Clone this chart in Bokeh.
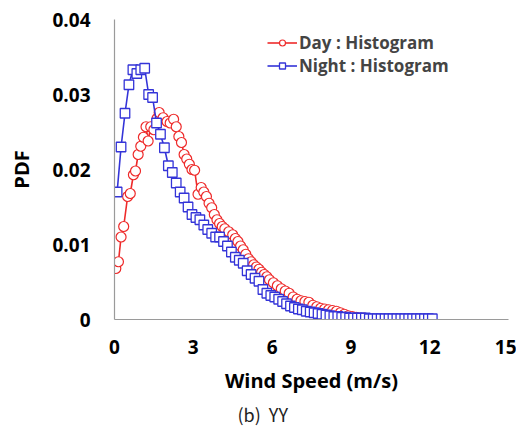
from bokeh.plotting import figure
from bokeh.models import Range1d, FixedTicker, Legend, LegendItem, Title
from bokeh.embed import file_html
from bokeh.resources import INLINE

# ---- data ----
day_speed = [0.05, 0.15, 0.25, 0.35, 0.5, 0.6, 0.72, 0.8, 0.9, 1.0,
             1.1, 1.2, 1.28, 1.38, 1.5, 1.62, 1.7, 1.85, 2.0, 2.12,
             2.25, 2.35, 2.45, 2.55, 2.65, 2.75, 2.85, 2.95, 3.05, 3.18,
             3.3, 3.4, 3.5, 3.6, 3.7, 3.8, 3.9, 4.0, 4.1, 4.2,
             4.35, 4.5, 4.6, 4.7, 4.8, 4.9, 5.0, 5.1, 5.2, 5.3,
             5.4, 5.5, 5.6, 5.7, 5.8, 5.9, 6.05, 6.2, 6.35, 6.5,
             6.65, 6.8, 6.95, 7.1, 7.25, 7.4, 7.55, 7.7, 7.85, 8.0,
             8.15, 8.3, 8.45, 8.6, 8.75, 8.9, 9.05, 9.2, 9.35, 9.5]
day_pdf = [0.0068, 0.0077, 0.0110, 0.0124, 0.0164, 0.0168, 0.0193, 0.0198, 0.0220, 0.0231,
           0.0243, 0.0257, 0.0238, 0.0257, 0.0253, 0.0268, 0.0276, 0.0269, 0.0264, 0.0262,
           0.0267, 0.0257, 0.0244, 0.0236, 0.0220, 0.0214, 0.0207, 0.0200, 0.0199, 0.0167,
           0.0176, 0.0170, 0.0164, 0.0155, 0.0149, 0.0140, 0.0133, 0.0128, 0.0124, 0.0121,
           0.0117, 0.0113, 0.0108, 0.0104, 0.0098, 0.0093, 0.0087, 0.0081, 0.0077, 0.0073,
           0.0070, 0.0067, 0.0063, 0.0060, 0.0057, 0.0053, 0.0049, 0.0045, 0.0041, 0.0038,
           0.0035, 0.0030, 0.0027, 0.0025, 0.0024, 0.0023, 0.0019, 0.0017, 0.0015, 0.0014,
           0.0013, 0.0012, 0.0011, 0.0009, 0.0007, 0.0005, 0.0004, 0.0003, 0.0002, 0.0002]

night_speed = [0.10, 0.25, 0.40, 0.55, 0.70, 0.85, 1.00, 1.15, 1.30, 1.45,
               1.60, 1.75, 1.90, 2.05, 2.20, 2.35, 2.50, 2.65, 2.80, 2.95,
               3.10, 3.25, 3.40, 3.55, 3.70, 3.85, 4.00, 4.15, 4.30, 4.45,
               4.60, 4.75, 4.90, 5.05, 5.20, 5.35, 5.50, 5.65, 5.80, 5.95,
               6.10, 6.25, 6.40, 6.55, 6.70, 6.85, 7.00, 7.15, 7.30, 7.45,
               7.60, 7.75, 7.90, 8.05, 8.20, 8.35, 8.50, 8.65, 8.80, 8.95,
               9.10, 9.25, 9.40, 9.55, 9.70, 9.85, 10.00, 10.15, 10.30, 10.45,
               10.60, 10.75, 10.90, 11.05, 11.20, 11.35, 11.50, 11.65, 11.80, 11.95,
               12.10]
night_pdf = [0.0170, 0.0230, 0.0275, 0.0313, 0.0333, 0.0328, 0.0333, 0.0335, 0.0300, 0.0296,
             0.0262, 0.0247, 0.0229, 0.0205, 0.0196, 0.0182, 0.0170, 0.0162, 0.0150, 0.0140,
             0.0136, 0.0133, 0.0126, 0.0120, 0.0115, 0.0110, 0.0110, 0.0104, 0.0098, 0.0090,
             0.0083, 0.0079, 0.0075, 0.0065, 0.0060, 0.0055, 0.0051, 0.0040, 0.0035, 0.0032,
             0.0030, 0.0027, 0.0024, 0.0021, 0.0018, 0.0016, 0.0014, 0.0013, 0.0011, 0.0010,
             0.0009, 0.0008, 0.0007, 0.0006, 0.0005, 0.0004, 0.0004, 0.0003, 0.0003, 0.0002,
             0.0002, 0.0002, 0.0002, 0.0002, 0.0001, 0.0001, 0.0001, 0.0001, 0.0001, 0.0001,
             0.0001, 0.0001, 0.0001, 0.0001, 0.0001, 0.0001, 0.0001, 0.0001, 0.0001, 0.0001,
             0.0001]

x_ticks = [0, 3, 6, 9, 12, 15]
y_ticks = [0, 0.01, 0.02, 0.03, 0.04]
y_tick_labels = {0: "0", 0.01: "0.01", 0.02: "0.02", 0.03: "0.03", 0.04: "0.04"}
caption = "(b)\u00a0\u00a0YY"

RED = "#ee2a2a"
BLUE = "#3434d8"
FONT = "Open Sans"

p = figure(width=516, height=430, output_backend="svg", toolbar_location=None,
           x_range=Range1d(0, 15), y_range=Range1d(0, 0.04),
           min_border_left=114, min_border_right=8, min_border_top=19, min_border_bottom=111)
p.outline_line_color = None
p.xgrid.visible = False
p.ygrid.visible = False

for ax in (p.xaxis[0], p.yaxis[0]):
    ax.axis_line_color = "#9a9a9a"
    ax.axis_line_width = 1.2
    ax.major_tick_line_color = None
    ax.minor_tick_line_color = None
    ax.major_tick_out = 0
    ax.major_tick_in = 0
    ax.minor_tick_out = 0
    ax.major_label_text_font = FONT
    ax.major_label_text_font_style = "bold"
    ax.major_label_text_font_size = "19px"
    ax.major_label_text_color = "black"
    ax.axis_label_text_font = FONT
    ax.axis_label_text_font_style = "bold"
    ax.axis_label_text_font_size = "20px"
    ax.axis_label_text_color = "black"

p.xaxis.ticker = FixedTicker(ticks=x_ticks)
p.yaxis.ticker = FixedTicker(ticks=y_ticks)
p.yaxis.major_label_overrides = y_tick_labels
p.xaxis.major_label_standoff = 20
p.yaxis.major_label_standoff = 24
p.xaxis.axis_label = "Wind Speed (m/s)"
p.yaxis.axis_label = "PDF"
p.xaxis.axis_label_standoff = 10
p.yaxis.axis_label_standoff = 14

l1 = p.line(day_speed, day_pdf, line_color=RED, line_width=1.6)
m1 = p.scatter(day_speed, day_pdf, marker="circle", size=10, fill_color="white",
               line_color=RED, line_width=1.2)
l2 = p.line(night_speed, night_pdf, line_color=BLUE, line_width=1.6)
m2 = p.scatter(night_speed, night_pdf, marker="square", size=9.5, fill_color="white",
               line_color=BLUE, line_width=1.3)

legend = Legend(items=[LegendItem(label="Day : Histogram", renderers=[l1, m1]),
                       LegendItem(label="Night : Histogram", renderers=[l2, m2])],
                location=(153, 242))
legend.background_fill_alpha = 0
legend.border_line_color = None
legend.label_text_font = FONT
legend.label_text_font_style = "bold"
legend.label_text_font_size = "17px"
legend.label_height = 20
legend.glyph_width = 30
legend.glyph_height = 15
legend.label_standoff = 2
legend.spacing = 0
legend.padding = 4
legend.margin = 0
p.add_layout(legend)

sub = Title(text=caption, align="left", offset=123, standoff=5, text_line_height=0.6,
            text_font="Noto Sans CJK KR", text_font_style="normal",
            text_font_size="18px", text_color="#222222")
p.add_layout(sub, "below")

open("out.html", "w").write(file_html(p, INLINE))
